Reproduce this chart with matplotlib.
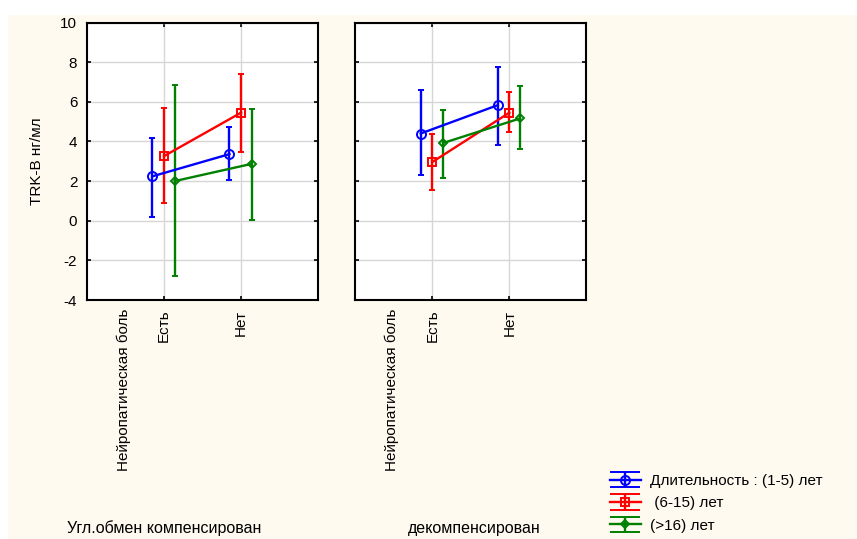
import matplotlib
matplotlib.use("Agg")
import matplotlib.pyplot as plt
from matplotlib.patches import Rectangle
from matplotlib.lines import Line2D
import matplotlib.transforms as mtransforms

plt.rcParams['font.family'] = ['Liberation Sans', 'DejaVu Sans']
plt.rcParams['axes.unicode_minus'] = False

# Data (means and interval limits)
groups = ['Есть', 'Нет']
panel_titles = ['Угл.обмен компенсирован', 'декомпенсирован']
series_labels = ['Длительность : (1-5) лет', ' (6-15) лет', '(>16) лет']

# panel 1: компенсирован
p1_blue = [2.24, 3.36]
p1_blue_lo = [0.20, 2.03]
p1_blue_hi = [4.17, 4.74]
p1_red = [3.26, 5.45]
p1_red_lo = [0.87, 3.45]
p1_red_hi = [5.71, 7.41]
p1_green = [2.00, 2.87]
p1_green_lo = [-2.81, 0.05]
p1_green_hi = [6.87, 5.65]

# panel 2: декомпенсирован
p2_blue = [4.40, 5.83]
p2_blue_lo = [2.29, 3.82]
p2_blue_hi = [6.61, 7.76]
p2_red = [2.96, 5.45]
p2_red_lo = [1.56, 4.49]
p2_red_hi = [4.35, 6.47]
p2_green = [3.92, 5.16]
p2_green_lo = [2.18, 3.60]
p2_green_hi = [5.61, 6.81]

panels = [
    [(p1_blue, p1_blue_lo, p1_blue_hi), (p1_red, p1_red_lo, p1_red_hi), (p1_green, p1_green_lo, p1_green_hi)],
    [(p2_blue, p2_blue_lo, p2_blue_hi), (p2_red, p2_red_lo, p2_red_hi), (p2_green, p2_green_lo, p2_green_hi)],
]

colors = ['#0000FF', '#FF0000', '#008000']
markers = ['o', 's', 'D']
msizes = [6.5, 6, 4.5]
offsets = [-0.15, 0.0, 0.14]
fs = 11

fig = plt.figure(figsize=(8.57, 5.39), dpi=100)
fig.patch.set_facecolor('white')
fig.patches.append(Rectangle((8 / 857, 0), 1, 1 - 15 / 539, transform=fig.transFigure,
                             facecolor='#FFFAF0', edgecolor='none', zorder=-10))

ax_lefts = [87 / 857, 355.3 / 857]
handles = []
for p, (left, series) in enumerate(zip(ax_lefts, panels)):
    ax = fig.add_axes([left, 1 - 300 / 539, 231 / 857, 277.5 / 539])
    ax.set_facecolor('white')
    for i, (vals, lo, hi) in enumerate(series):
        x = [k + offsets[i] for k in range(len(groups))]
        err = [[v - l for v, l in zip(vals, lo)], [h - v for v, h in zip(vals, hi)]]
        eb = ax.errorbar(x, vals, yerr=err, color=colors[i], marker=markers[i], ms=msizes[i],
                         mfc='none', mec=colors[i], mew=1.4, lw=1.7, capsize=2.5,
                         capthick=1.7, elinewidth=1.7, zorder=3)
        if p == 0:
            handles.append(eb)
    ax.set_xlim(-1, 2)
    ax.set_ylim(-4, 10)
    ax.set_yticks(range(-4, 11, 2))
    ax.set_xticks(range(len(groups)))
    ax.set_xticklabels(groups, rotation=90, va='top')
    ax.grid(True, color='#D6D6D6', lw=1)
    ax.set_axisbelow(True)
    for s in ax.spines.values():
        s.set_linewidth(1.5)
    ax.tick_params(direction='in', length=3, width=1.2, top=True, right=True, labelsize=fs)
    ax.tick_params(axis='x', pad=7)
    ax.tick_params(axis='y', pad=7)
    if p == 0:
        ax.set_ylabel('TRK-B нг/мл', fontsize=fs, labelpad=12)
    else:
        ax.tick_params(axis='y', labelleft=False)
    trans = mtransforms.blended_transform_factory(ax.transData, fig.transFigure)
    ax.text(-0.52, 1 - 309 / 539, 'Нейропатическая боль', rotation=90, ha='center', va='top',
            fontsize=fs, transform=trans)

fig.text(164 / 857, 1 - 528 / 539, panel_titles[0], ha='center', va='center', fontsize=11.5)
fig.text(474 / 857, 1 - 528 / 539, panel_titles[1], ha='center', va='center', fontsize=11.5)

leg = fig.legend(handles, series_labels, loc='upper left', bbox_to_anchor=(610 / 857, 1 - 474 / 539),
                 frameon=False, fontsize=fs, handlelength=2.0, handletextpad=0.65,
                 labelspacing=0.55, borderpad=0, borderaxespad=0)
for ln in leg.findobj(Line2D):
    if ln.get_marker() == '_':
        ln.set_markersize(22)

fig.savefig('out.png', dpi=100)
